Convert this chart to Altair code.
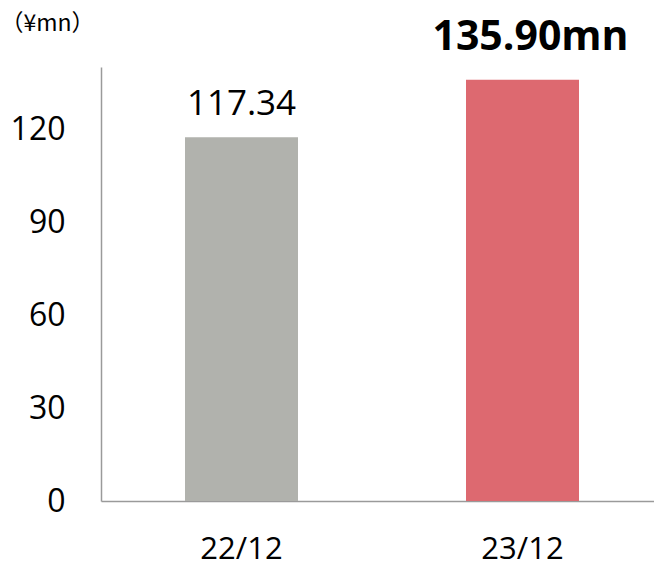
import altair as alt
import pandas as pd

categories = ["22/12", "23/12"]
values = [117.34, 135.90]
labels = ["117.34", "135.90mn"]
colors = ["#b1b2ad", "#dd6970"]
y_ticks = [0, 30, 60, 90, 120]
unit_label = "（¥mn）"

df = pd.DataFrame({"period": categories, "value": values, "label": labels, "color": colors})

FONT = "Open Sans"

x = alt.X("period:N", sort=categories,
          scale=alt.Scale(range=[0, 562], paddingInner=0, paddingOuter=0),
          axis=alt.Axis(title=None, labelAngle=0, ticks=False, labelFontSize=31, labelFont=FONT,
                        labelColor="#000000", labelPadding=33, domainColor="#9a9a9a", domainWidth=1.5))
y = alt.Y("value:Q", scale=alt.Scale(domain=[0, 140], nice=False),
          axis=alt.Axis(title=unit_label, titleAngle=0, titleAlign="left", titleBaseline="top",
                        titleX=-101, titleY=-55, titleFont="Noto Sans CJK JP", titleFontSize=23,
                        titleFontWeight="normal", titleColor="#000000",
                        values=y_ticks, ticks=False, grid=False, labelFontSize=32,
                        labelFont=FONT, labelColor="#000000", labelPadding=36,
                        domainColor="#9a9a9a", domainWidth=1.5))

bars = alt.Chart(df).mark_bar(width=113).encode(
    x=x, y=y, color=alt.Color("color:N", scale=None)
)

lab1 = alt.Chart(df.iloc[[0]]).mark_text(
    font=FONT, fontSize=35, color="#000000", baseline="alphabetic", dy=-22
).encode(x=alt.X("period:N", sort=categories), y="value:Q", text="label:N")

lab2 = alt.Chart(df.iloc[[1]]).mark_text(
    font=FONT, fontSize=41, fontWeight="bold", color="#000000", baseline="alphabetic", dy=-30, dx=8
).encode(x=alt.X("period:N", sort=categories), y="value:Q", text="label:N")

chart = alt.layer(bars, lab1, lab2).properties(
    width=553, height=434,
    autosize=alt.AutoSizeParams(type="none"),
    padding={"left": 101, "top": 67, "right": 0, "bottom": 66},
).configure_view(stroke=None)

chart.save("out.html", embed_options={"renderer": "svg", "actions": False})
